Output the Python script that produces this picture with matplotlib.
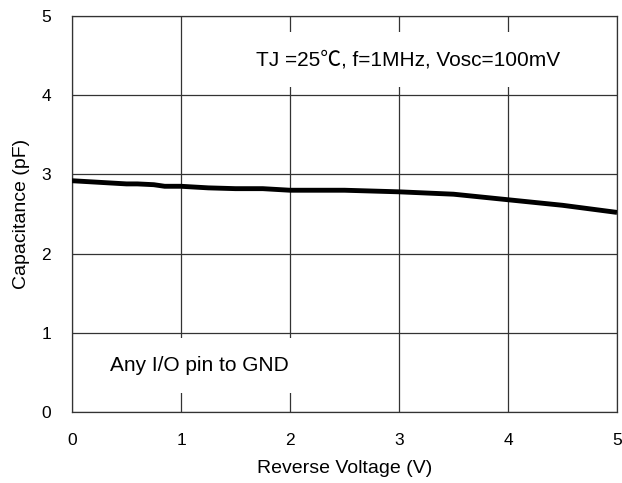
import matplotlib
matplotlib.use("Agg")
import matplotlib.pyplot as plt

# curve
voltage = [0, 0.25, 0.5, 0.6, 0.75, 0.85, 1.0, 1.25, 1.5, 1.75, 2.0, 2.5, 3.0, 3.5, 4.0, 4.5, 5.0]
capacitance = [2.92, 2.90, 2.88, 2.88, 2.87, 2.85, 2.85, 2.83, 2.82, 2.82, 2.80, 2.80, 2.78, 2.75, 2.68, 2.61, 2.52]
ticks = [0, 1, 2, 3, 4, 5]

plt.rcParams['font.family'] = ['Liberation Sans', 'Noto Sans CJK SC', 'DejaVu Sans']

fig = plt.figure(figsize=(6.22, 4.83), dpi=100)
ax = fig.add_axes([72/622, 1-412/483, 545/622, 396/483])

ax.plot(voltage, capacitance, color='black', linewidth=3.5, solid_capstyle='butt', zorder=3)

ax.set_xlim(0, 5)
ax.set_ylim(0, 5)
ax.set_xticks(ticks)
ax.set_yticks(ticks)
ax.grid(True, color='#333333', linewidth=0.9)
ax.tick_params(length=0, labelsize=12.5, pad=15)
for s in ax.spines.values():
    s.set_color('#333333')
    s.set_linewidth(0.9)

ax.set_xlabel('Reverse Voltage (V)', fontsize=14, labelpad=9)
ax.set_ylabel('Capacitance (pF)', fontsize=14, labelpad=8)

box = dict(facecolor='white', edgecolor='none', pad=13)
ax.text(3.08, 4.45, 'TJ =25℃, f=1MHz, Vosc=100mV', fontsize=15, ha='center', va='center', bbox=box, zorder=2)
ax.text(1.17, 0.59, 'Any I/O pin to GND', fontsize=15, ha='center', va='center', bbox=box, zorder=2)

fig.savefig('out.png', dpi=100)
